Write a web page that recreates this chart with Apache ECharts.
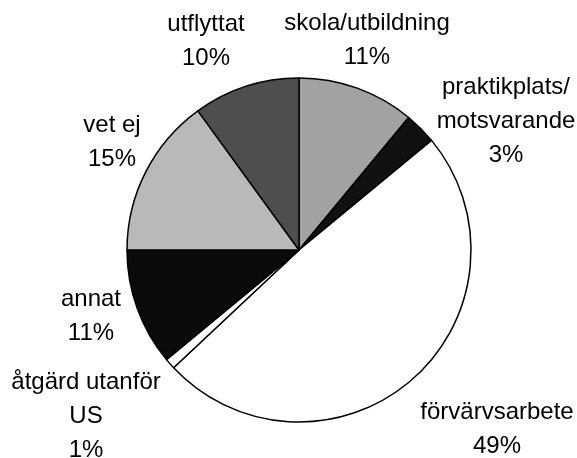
<!DOCTYPE html>
<html>
<head>
<meta charset="utf-8">
<script src="https://cdn.jsdelivr.net/npm/echarts@6/dist/echarts.min.js"></script>
<style>
    html, body { margin: 0; padding: 0; background: #fff; }
    #chart { width: 577px; height: 458px; }
</style>
</head>
<body>
<div id="chart"></div>
<script>
// andelar i procent, medurs från klockan 12
const categories = ['skola/utbildning', 'praktikplats/\nmotsvarande', 'förvärvsarbete', 'åtgärd utanför\nUS', 'annat', 'vet ej', 'utflyttat'];
const shares = [11, 3, 49, 1, 11, 15, 10];
const sliceColors = ['#a2a2a2', '#111111', '#ffffff', '#ffffff', '#0a0a0a', '#b9b9b9', '#4e4e4e'];
// etikettens mittpunkt (px)
const labelAnchors = [[367, 40], [506, 121], [497, 429], [86, 416], [91, 316], [112, 142], [206, 41]];

const chart = echarts.init(document.getElementById('chart'));

const option = {
    animation: false,
    series: [
        {
            type: 'pie',
            center: [299, 250],
            radius: 172,
            startAngle: 90,
            clockwise: true,
            data: categories.map((name, i) => ({
                name: name,
                value: shares[i],
                itemStyle: { color: sliceColors[i] }
            })),
            itemStyle: {
                borderColor: '#000',
                borderWidth: 1.5
            },
            label: {
                show: true,
                position: 'outside',
                formatter: '{b}\n{c}%',
                fontFamily: 'Liberation Sans, Arial, sans-serif',
                fontSize: 24,
                lineHeight: 34,
                color: '#000',
                align: 'center',
                overflow: 'none'
            },
            labelLine: { show: false },
            labelLayout: function (params) {
                const p = labelAnchors[params.dataIndex];
                return { x: p[0], y: p[1], width: 300, align: 'center', verticalAlign: 'middle' };
            },
            emphasis: { disabled: true }
        }
    ]
};

chart.setOption(option);
</script>
</body>
</html>
